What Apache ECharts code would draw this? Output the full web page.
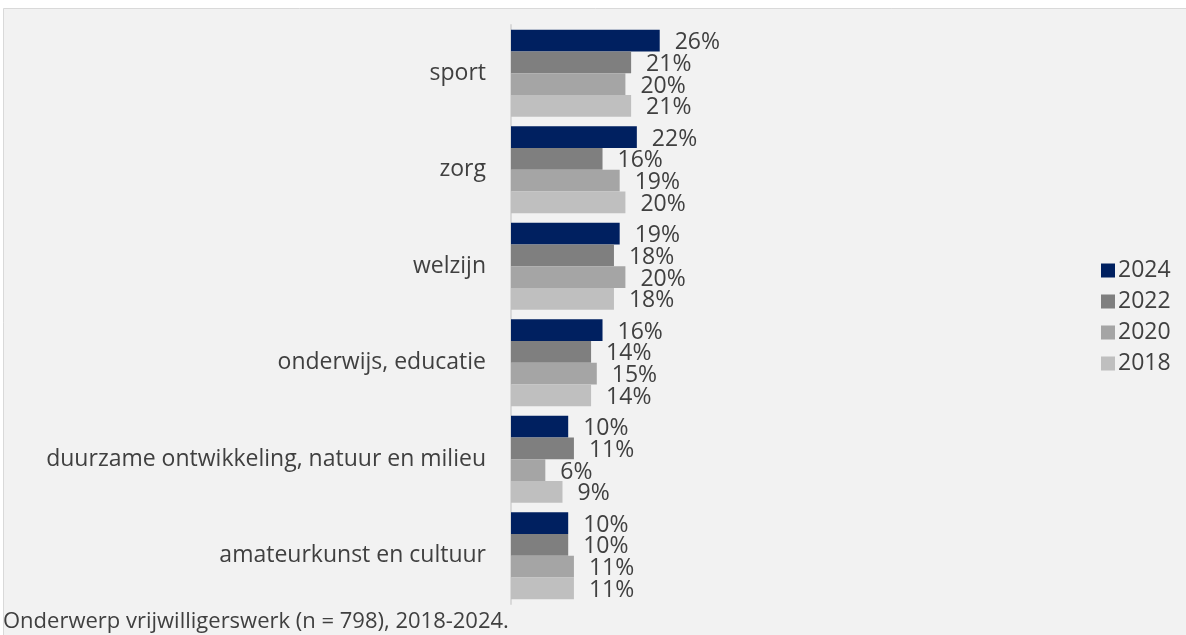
<!DOCTYPE html>
<html><head><meta charset="utf-8">
<style>html,body{margin:0;padding:0;background:#fff}#c{width:1186px;height:635px}</style>
<script src="https://cdn.jsdelivr.net/npm/echarts@6/dist/echarts.min.js"></script>
</head><body><div id="c"></div>
<script>
const categories = ['sport','zorg','welzijn','onderwijs, educatie','duurzame ontwikkeling, natuur en milieu','amateurkunst en cultuur'];
const years = ['2024','2022','2020','2018'];
const v2024 = [26,22,19,16,10,10];
const v2022 = [21,16,18,14,11,10];
const v2020 = [20,19,20,15,6,11];
const v2018 = [21,20,18,14,9,11];
const colors = ['#002060','#7f7f7f','#a5a5a5','#bfbfbf'];
const caption = 'Onderwerp vrijwilligerswerk (n = 798), 2018-2024.';

const FONT = '"Open Sans", Lato, sans-serif';
const chart = echarts.init(document.getElementById('c'), null, {renderer:'canvas'});
const seriesData = [v2024, v2022, v2020, v2018];
chart.setOption({
  animation:false,
  textStyle:{fontFamily:FONT},
  graphic:[
    {type:'rect', z:-10, shape:{x:3.5,y:8.5,width:1190,height:640}, style:{fill:'#f2f2f2',stroke:'#d9d9d9',lineWidth:1}},
    {type:'text', left:3, top:611, style:{text:caption, fill:'#404040', font:'22px '+FONT}}
  ],
  legend:{
    orient:'vertical', left:1096, top:254, itemWidth:14, itemHeight:14, itemGap:8,
    icon:'rect', data:years,
    textStyle:{fontSize:23, color:'#404040', fontFamily:FONT, padding:[0,0,0,-2]}
  },
  grid:{left:511, top:25, width:572, height:579, containLabel:false},
  xAxis:{type:'value', min:0, max:100, show:false},
  yAxis:{type:'category', data:categories, inverse:true,
    axisLine:{show:true, lineStyle:{color:'#d9d9d9', width:2}},
    axisTick:{show:false},
    axisLabel:{fontSize:23, color:'#404040', margin:25, fontFamily:FONT}
  },
  series: years.map((y,i)=>({
    name:y, type:'bar', data:seriesData[i], barGap:'0%', barCategoryGap:'10%',
    itemStyle:{color:colors[i]},
    label:{show:true, position:'right', distance:15, offset:[0,2], formatter:'{c}%', fontSize:23, color:'#404040', fontFamily:FONT}
  }))
});
</script></body></html>
